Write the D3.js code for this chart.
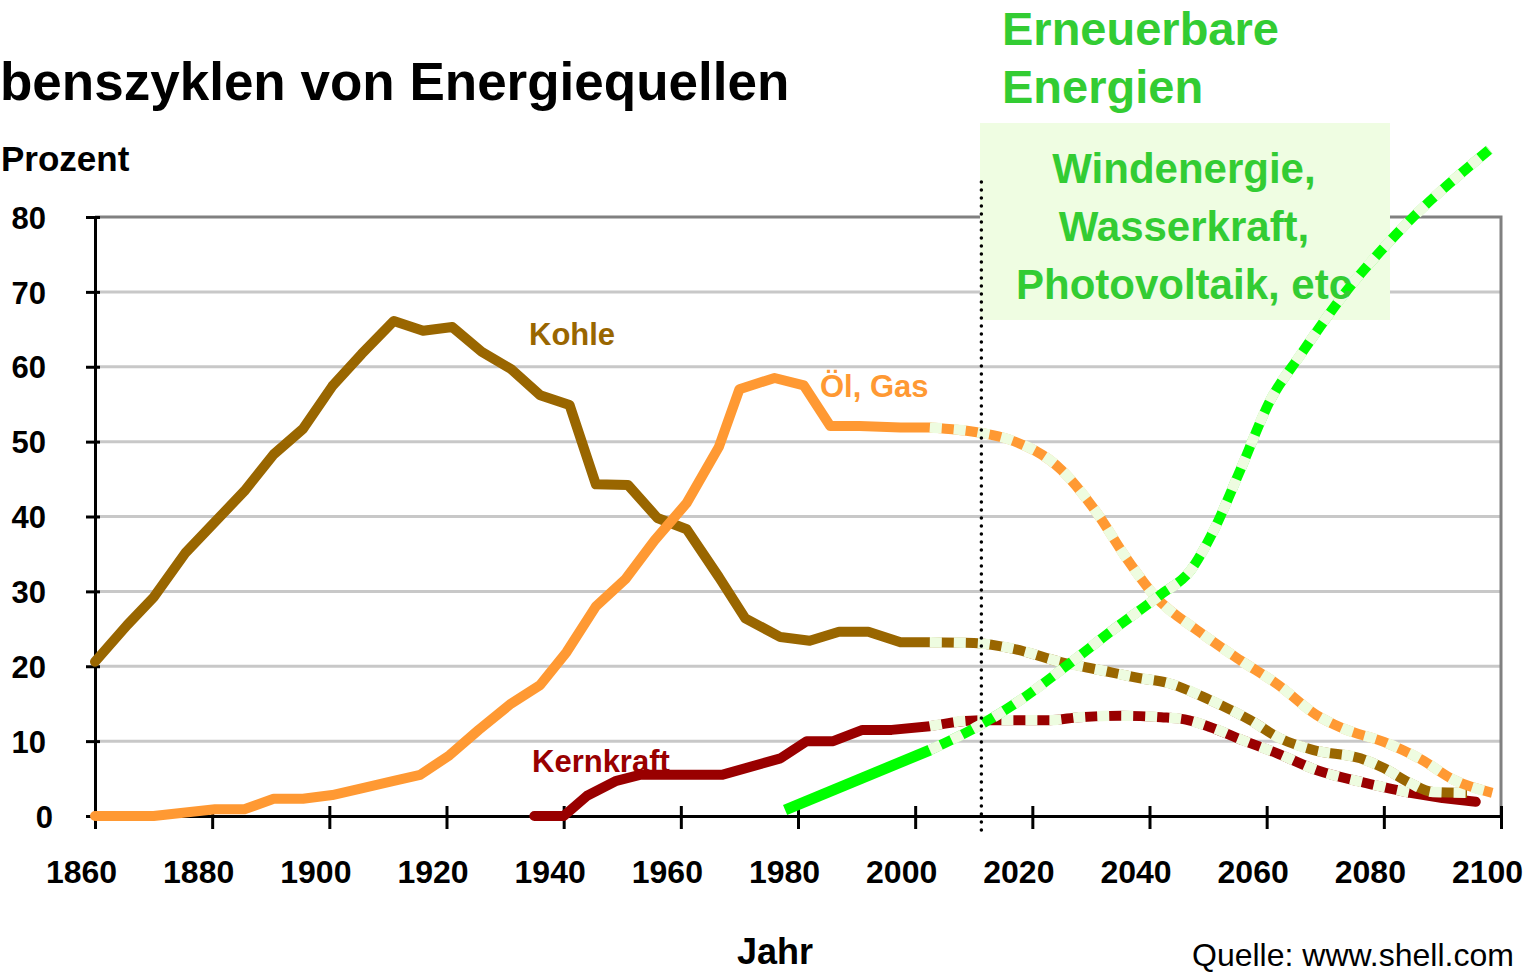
<!DOCTYPE html>
<html>
<head>
<meta charset="utf-8">
<script src="https://cdn.jsdelivr.net/npm/d3@7"></script>
<style>
  html, body { margin: 0; padding: 0; background: #fff; overflow: hidden; }
  svg { display: block; font-family: "Liberation Sans", Arial, sans-serif; }
</style>
</head>
<body>
<svg id="chart" width="1528" height="975"></svg>
<script>
// ---- Data ----
const xTicks = [1860, 1880, 1900, 1920, 1940, 1960, 1980, 2000, 2020, 2040, 2060, 2080, 2100];
const yTicks = [0, 10, 20, 30, 40, 50, 60, 70, 80];

const kohleHistYears = [1860, 1865.5, 1870, 1875.5, 1880.5, 1885.5, 1890.5, 1895.5, 1900.5, 1905.5, 1911, 1916, 1921, 1926, 1931, 1936, 1941, 1945.5, 1951, 1956, 1961, 1966.5, 1971, 1977, 1982, 1987, 1992, 1997.5, 2002.5];
const kohleHistValues = [20.6, 25.5, 29.2, 35.2, 39.3, 43.4, 48.3, 51.7, 57.4, 61.7, 66.1, 64.8, 65.3, 62, 59.7, 56.2, 54.9, 44.3, 44.2, 39.8, 38.3, 31.9, 26.4, 23.9, 23.4, 24.6, 24.6, 23.2, 23.2];
const kohleProjYears = [2002.5, 2010, 2017, 2024.7, 2031.5, 2038.4, 2043, 2050.3, 2057.2, 2062.2, 2068, 2076, 2080, 2084.5, 2088.4, 2094.2];
const kohleProjValues = [23.2, 23.1, 22.3, 20.6, 19.5, 18.4, 17.8, 15.5, 12.8, 10.4, 8.8, 7.7, 6.4, 4.4, 3.2, 3.1];

const oelHistYears = [1860, 1870, 1880.5, 1885.5, 1890.5, 1895.5, 1900.5, 1905.5, 1911, 1915.5, 1920.5, 1925.5, 1931, 1936, 1940.5, 1945.5, 1950.5, 1955.5, 1961, 1966.5, 1970, 1976, 1981, 1985.5, 1990.5, 1997.5, 2002.5];
const oelHistValues = [0, 0, 0.9, 0.9, 2.3, 2.3, 2.8, 3.7, 4.7, 5.5, 8.1, 11.5, 15, 17.5, 21.9, 28, 31.6, 36.8, 41.8, 49.3, 57, 58.5, 57.5, 52.1, 52.1, 51.9, 51.9];
const oelProjYears = [2002.5, 2011, 2016, 2025, 2031, 2036, 2041, 2048.5, 2055.5, 2062, 2068.5, 2073, 2080, 2086.5, 2092, 2098.5];
const oelProjValues = [51.9, 51.2, 50.3, 46.2, 40.5, 34.5, 29.3, 24.6, 20.8, 17.5, 13.5, 11.7, 9.9, 7.5, 4.8, 3.1];

const kernHistYears = [1935, 1940, 1944, 1949, 1953, 1957, 1967, 1972, 1977, 1981.5, 1986, 1991, 1996, 2002.5];
const kernHistValues = [0, 0, 2.7, 4.7, 5.5, 5.5, 5.5, 6.6, 7.7, 10, 10, 11.5, 11.5, 12.0];
const kernProjYears = [2002.5, 2011, 2023, 2028, 2035, 2042, 2046, 2050.3, 2056, 2061.7, 2068.6, 2077, 2084.5];
const kernProjValues = [12.0, 12.8, 12.8, 13.2, 13.4, 13.2, 12.9, 11.9, 10.1, 8.4, 6.1, 4.4, 3.1];
const kernTailYears = [2084.5, 2090, 2095.7];
const kernTailValues = [3.1, 2.4, 1.9];

const erneuerHistYears = [1977.8, 2002.5];
const erneuerHistValues = [0.8, 8.8];
const erneuerProjYears = [2002.5, 2011, 2018, 2026.4, 2034, 2041.8, 2047, 2051, 2055.5, 2060.6, 2065.7, 2073.5, 2082, 2098];
const erneuerProjValues = [8.8, 12.1, 15.5, 20.4, 25, 29.5, 32.8, 38.2, 46.2, 55.5, 61.5, 70, 77.6, 89];

const markerYear = 2011.3;

const titleText = "benszyklen von Energiequellen";
const yAxisTitle = "Prozent";
const xAxisTitle = "Jahr";
const sourceText = "Quelle: www.shell.com";
const renewTitle = ["Erneuerbare", "Energien"];
const renewBox = ["Windenergie,", "Wasserkraft,", "Photovoltaik, etc"];

// ---- Setup ----
const svg = d3.select("#chart");
const x = d3.scaleLinear().domain([1860, 2100]).range([95, 1501]);
const y = d3.scaleLinear().domain([0, 80]).range([816, 217]);

const colKohle = "#996600", colOel = "#FF9933", colKern = "#990000", colGreen = "#00FF00";
const colText = "#33CC33", pale = "#EEFCE0";

const zip = (a, b) => a.map((v, i) => [v, b[i]]);
const line = d3.line().x(d => x(d[0])).y(d => y(d[1]));
const smooth = d3.line().x(d => x(d[0])).y(d => y(d[1])).curve(d3.curveMonotoneX);

// Gridlines
svg.append("g").selectAll("line").data(yTicks.filter(v => v > 0 && v < 80)).join("line")
  .attr("x1", x(1860)).attr("x2", x(2100))
  .attr("y1", d => y(d)).attr("y2", d => y(d))
  .attr("stroke", "#C8C8C8").attr("stroke-width", 3);
// Plot border top & right
svg.append("path")
  .attr("d", `M${x(1860)},${y(80)}H${x(2100)}V${y(0)}`)
  .attr("fill", "none").attr("stroke", "#808080").attr("stroke-width", 3);

// Annotation box
svg.append("rect").attr("x", 980).attr("y", 123).attr("width", 410).attr("height", 197)
  .attr("fill", "#EFFDE2");

// Axes
const xAxis = d3.axisBottom(x).tickValues(xTicks).tickFormat(d3.format("d")).tickSize(13).tickSizeOuter(0);
const gx = svg.append("g").attr("transform", `translate(0,${y(0)})`).call(xAxis);
gx.select(".domain").attr("stroke", "#000").attr("stroke-width", 3);
gx.selectAll(".tick line").attr("y1", -10).attr("y2", 13).attr("stroke", "#000").attr("stroke-width", 3);
gx.selectAll(".tick text").attr("y", 67).attr("dy", 0).attr("dx", -14)
  .attr("font-size", 32).attr("font-weight", "bold").attr("fill", "#000")
  .attr("font-family", "Liberation Sans, Arial, sans-serif");

const yAxis = d3.axisLeft(y).tickValues(yTicks).tickSize(9).tickSizeOuter(0);
const gy = svg.append("g").attr("transform", `translate(${x(1860)},0)`).call(yAxis);
gy.select(".domain").attr("stroke", "#000").attr("stroke-width", 3);
gy.selectAll(".tick line").attr("x1", -9).attr("x2", 5).attr("stroke", "#000").attr("stroke-width", 3);
gy.selectAll(".tick text").attr("x", d => d === 0 ? -42 : -49).attr("dy", "0.36em")
  .attr("font-size", 31).attr("font-weight", "bold").attr("fill", "#000")
  .attr("font-family", "Liberation Sans, Arial, sans-serif");

// Lines
const LW = 10;
function solid(data, color, fn) {
  svg.append("path").datum(data).attr("d", fn || line)
    .attr("fill", "none").attr("stroke", color).attr("stroke-width", LW)
    .attr("stroke-linejoin", "round").attr("stroke-linecap", "round");
}
function dashed(data, color) {
  svg.append("path").datum(data).attr("d", smooth)
    .attr("fill", "none").attr("stroke", color).attr("stroke-width", LW)
    .attr("stroke-linejoin", "round");
  svg.append("path").datum(data).attr("d", smooth)
    .attr("fill", "none").attr("stroke", pale).attr("stroke-width", LW + 0.5)
    .attr("stroke-dasharray", "12,12").attr("stroke-linejoin", "round");
}

solid(zip(kohleHistYears, kohleHistValues), colKohle);
solid(zip(oelHistYears, oelHistValues), colOel);
solid(zip(kernHistYears, kernHistValues), colKern);
solid(zip(kernTailYears, kernTailValues), colKern);
dashed(zip(kernProjYears, kernProjValues), colKern);
dashed(zip(kohleProjYears, kohleProjValues), colKohle);
dashed(zip(oelProjYears, oelProjValues), colOel);
svg.append("path").datum(zip(erneuerHistYears, erneuerHistValues)).attr("d", line)
  .attr("fill", "none").attr("stroke", colGreen).attr("stroke-width", LW + 1);
dashed(zip(erneuerProjYears, erneuerProjValues), colGreen);

// Dotted marker line
svg.append("line").attr("x1", x(markerYear)).attr("x2", x(markerYear))
  .attr("y1", 182).attr("y2", 834)
  .attr("stroke", "#000").attr("stroke-width", 3.5).attr("stroke-linecap", "round")
  .attr("stroke-dasharray", "0,8");

// Texts
const bold = (sel) => sel.attr("font-weight", "bold");
bold(svg.append("text").attr("x", 0).attr("y", 100).attr("font-size", 53).attr("fill", "#000").text(titleText));
bold(svg.append("text").attr("x", 1).attr("y", 171).attr("font-size", 35).attr("fill", "#000").text(yAxisTitle));
bold(svg.append("text").attr("x", 775).attr("y", 964).attr("text-anchor", "middle").attr("font-size", 36).attr("fill", "#000").text(xAxisTitle));
svg.append("text").attr("x", 1192).attr("y", 966).attr("font-size", 32).attr("fill", "#000").text(sourceText);

bold(svg.append("text").attr("x", 529).attr("y", 345).attr("font-size", 31).attr("fill", colKohle).text("Kohle"));
bold(svg.append("text").attr("x", 820).attr("y", 397).attr("font-size", 31).attr("fill", colOel).text("Öl, Gas"));
bold(svg.append("text").attr("x", 532).attr("y", 772).attr("font-size", 31).attr("fill", colKern).text("Kernkraft"));

renewTitle.forEach((t, i) => {
  bold(svg.append("text").attr("x", 1002).attr("y", 45 + i * 58).attr("font-size", 47).attr("fill", colText).text(t));
});
renewBox.forEach((t, i) => {
  bold(svg.append("text").attr("x", 1184).attr("y", 183 + i * 58).attr("text-anchor", "middle")
    .attr("font-size", 42).attr("fill", colText).text(t));
});
</script>
</body>
</html>
